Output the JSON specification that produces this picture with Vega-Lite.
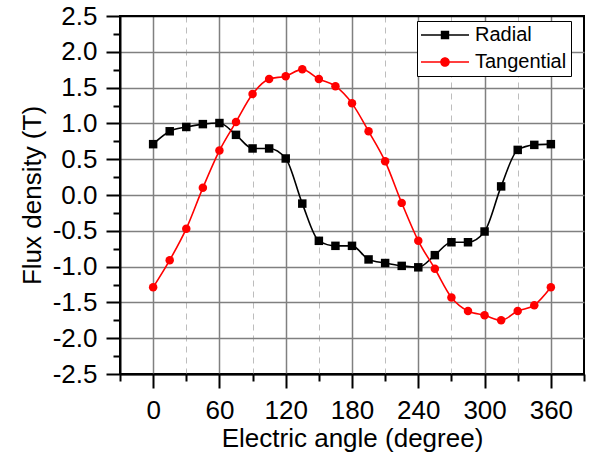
{
  "$schema": "https://vega.github.io/schema/vega-lite/v6.json",
  "autosize": {"type": "none"},
  "width": 464,
  "height": 358,
  "padding": {"left": 120, "top": 16, "right": 11, "bottom": 80},
  "background": "white",
  "config": {
    "font": "Liberation Sans",
    "view": {"stroke": "black", "strokeWidth": 2},
    "axis": {"labelFont": "Liberation Sans", "titleFont": "Liberation Sans", "labelColor": "black", "titleColor": "black", "titleFontWeight": "normal"},
    "legend": {"orient": "none", "legendX": 297, "legendY": 5, "title": null,
      "labelFontSize": 20, "labelColor": "black", "labelFont": "Liberation Sans", "labelOffset": 20,
      "symbolSize": 400, "symbolOffset": 14, "rowPadding": 7, "padding": 4, "symbolStrokeWidth": 0,
      "strokeColor": "black", "fillColor": "white"}
  },
  "data": {"values": [
    {"angle": 0, "series": "Radial", "flux": 0.71},
    {"angle": 15, "series": "Radial", "flux": 0.89},
    {"angle": 30, "series": "Radial", "flux": 0.95},
    {"angle": 45, "series": "Radial", "flux": 0.99},
    {"angle": 60, "series": "Radial", "flux": 1.005},
    {"angle": 75, "series": "Radial", "flux": 0.84},
    {"angle": 90, "series": "Radial", "flux": 0.65},
    {"angle": 105, "series": "Radial", "flux": 0.65},
    {"angle": 120, "series": "Radial", "flux": 0.51},
    {"angle": 135, "series": "Radial", "flux": -0.12},
    {"angle": 150, "series": "Radial", "flux": -0.64},
    {"angle": 165, "series": "Radial", "flux": -0.71},
    {"angle": 180, "series": "Radial", "flux": -0.71},
    {"angle": 195, "series": "Radial", "flux": -0.9},
    {"angle": 210, "series": "Radial", "flux": -0.95},
    {"angle": 225, "series": "Radial", "flux": -0.99},
    {"angle": 240, "series": "Radial", "flux": -1.01},
    {"angle": 255, "series": "Radial", "flux": -0.84},
    {"angle": 270, "series": "Radial", "flux": -0.66},
    {"angle": 285, "series": "Radial", "flux": -0.66},
    {"angle": 300, "series": "Radial", "flux": -0.51},
    {"angle": 315, "series": "Radial", "flux": 0.12},
    {"angle": 330, "series": "Radial", "flux": 0.63},
    {"angle": 345, "series": "Radial", "flux": 0.7},
    {"angle": 360, "series": "Radial", "flux": 0.71},
    {"angle": 0, "series": "Tangential", "flux": -1.29},
    {"angle": 15, "series": "Tangential", "flux": -0.91},
    {"angle": 30, "series": "Tangential", "flux": -0.47},
    {"angle": 45, "series": "Tangential", "flux": 0.1},
    {"angle": 60, "series": "Tangential", "flux": 0.62},
    {"angle": 75, "series": "Tangential", "flux": 1.02},
    {"angle": 90, "series": "Tangential", "flux": 1.41},
    {"angle": 105, "series": "Tangential", "flux": 1.62},
    {"angle": 120, "series": "Tangential", "flux": 1.66},
    {"angle": 135, "series": "Tangential", "flux": 1.755},
    {"angle": 150, "series": "Tangential", "flux": 1.62},
    {"angle": 165, "series": "Tangential", "flux": 1.52},
    {"angle": 180, "series": "Tangential", "flux": 1.28},
    {"angle": 195, "series": "Tangential", "flux": 0.89},
    {"angle": 210, "series": "Tangential", "flux": 0.47},
    {"angle": 225, "series": "Tangential", "flux": -0.11},
    {"angle": 240, "series": "Tangential", "flux": -0.64},
    {"angle": 255, "series": "Tangential", "flux": -1.03},
    {"angle": 270, "series": "Tangential", "flux": -1.43},
    {"angle": 285, "series": "Tangential", "flux": -1.62},
    {"angle": 300, "series": "Tangential", "flux": -1.68},
    {"angle": 315, "series": "Tangential", "flux": -1.75},
    {"angle": 330, "series": "Tangential", "flux": -1.62},
    {"angle": 345, "series": "Tangential", "flux": -1.54},
    {"angle": 360, "series": "Tangential", "flux": -1.29}
  ]},
  "resolve": {"axis": {"x": "independent", "y": "independent"}},
  "layer": [
    {
      "transform": [{"filter": "false"}],
      "mark": {"type": "point", "filled": true, "opacity": 1},
      "encoding": {
        "x": {"field": "angle", "type": "quantitative",
          "scale": {"domain": [-30, 390], "nice": false, "zero": false},
          "axis": {"orient": "bottom", "values": [0, 60, 120, 180, 240, 300, 360], "tickSize": 14, "tickWidth": 2, "tickColor": "black",
            "domainColor": "black", "domainWidth": 2, "labelFontSize": 26, "labelPadding": 9, "labelFlush": false,
            "title": "Electric angle (degree)", "titleFontSize": 26, "titlePadding": 2,
            "grid": true, "gridColor": "#808080", "gridWidth": 1.5}},
        "y": {"field": "flux", "type": "quantitative",
          "scale": {"domain": [-2.5, 2.5], "nice": false, "zero": false},
          "axis": {"orient": "left", "values": [-2.5, -2, -1.5, -1, -0.5, 0, 0.5, 1, 1.5, 2, 2.5], "format": ".1f",
            "labelExpr": "replace(datum.label, '\u2212', '-')",
            "tickSize": 14, "tickWidth": 2, "tickColor": "black",
            "domainColor": "black", "domainWidth": 2, "labelFontSize": 26, "labelPadding": 9, "labelFlush": false,
            "title": "Flux density (T)", "titleFontSize": 26, "titlePadding": 7,
            "grid": true, "gridWidth": 1.5,
            "gridColor": {"condition": {"test": "abs(datum.value) > 2.4", "value": "black"}, "value": "#808080"}}},
        "color": {"field": "series", "type": "nominal", "scale": {"domain": ["Radial", "Tangential"], "range": ["black", "red"]}},
        "shape": {"field": "series", "type": "nominal", "scale": {"domain": ["Radial", "Tangential"], "range": [
          "M-2.4,-0.075L2.4,-0.075L2.4,0.075L-2.4,0.075ZM-0.42,-0.42L0.42,-0.42L0.42,0.42L-0.42,0.42Z",
          "M-2.4,-0.075L2.4,-0.075L2.4,0.075L-2.4,0.075ZM0.48,0A0.48,0.48,0,1,1,-0.48,0A0.48,0.48,0,1,1,0.48,0Z"
        ]}}
      }
    },
    {
      "mark": {"type": "line", "interpolate": "monotone", "strokeWidth": 1.6},
      "encoding": {
        "x": {"field": "angle", "type": "quantitative", "axis": null},
        "y": {"field": "flux", "type": "quantitative", "axis": null},
        "color": {"field": "series", "type": "nominal"}
      }
    },
    {
      "transform": [{"filter": "datum.series === 'Radial'"}],
      "mark": {"type": "point", "filled": true, "opacity": 1, "size": 72, "shape": "square"},
      "encoding": {
        "x": {"field": "angle", "type": "quantitative", "axis": null},
        "y": {"field": "flux", "type": "quantitative", "axis": null},
        "color": {"field": "series", "type": "nominal"}
      }
    },
    {
      "transform": [{"filter": "datum.series === 'Tangential'"}],
      "mark": {"type": "point", "filled": true, "opacity": 1, "size": 72, "shape": "circle"},
      "encoding": {
        "x": {"field": "angle", "type": "quantitative",
          "axis": {"orient": "bottom", "values": [-30, 30, 90, 150, 210, 270, 330, 390], "tickSize": 7, "tickWidth": 2, "tickColor": "black",
            "domain": false, "labels": false, "title": null,
            "grid": true, "gridColor": "#bdbdbd", "gridWidth": 1, "gridDash": [6, 5],
            "gridOpacity": {"condition": {"test": "datum.value < 0 || datum.value > 380", "value": 0}, "value": 1}}},
        "y": {"field": "flux", "type": "quantitative",
          "axis": {"orient": "left", "values": [-2.25, -1.75, -1.25, -0.75, -0.25, 0.25, 0.75, 1.25, 1.75, 2.25], "tickSize": 7, "tickWidth": 2, "tickColor": "black",
            "domain": false, "labels": false, "title": null, "grid": false}},
        "color": {"field": "series", "type": "nominal"}
      }
    }
  ]
}
